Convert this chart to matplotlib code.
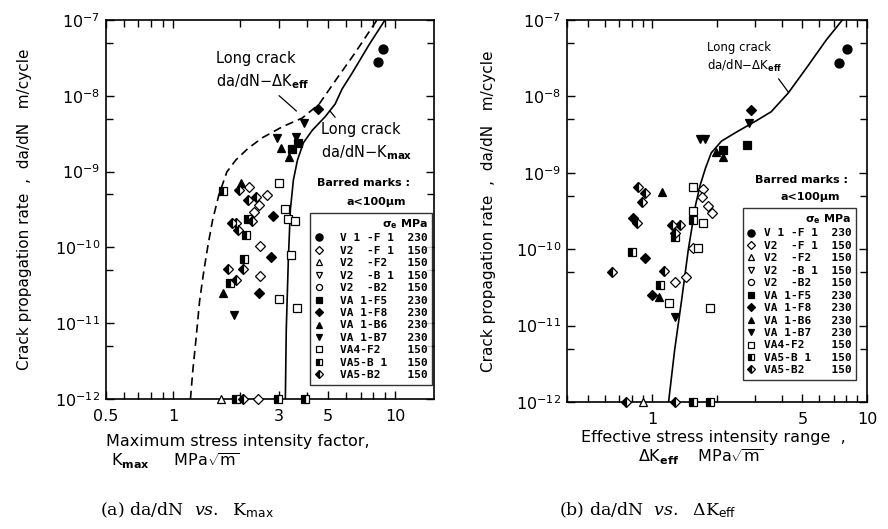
import matplotlib.pyplot as plt
from matplotlib.ticker import LogLocator, FixedLocator, FixedFormatter, NullFormatter

plt.rcParams['font.family'] = 'DejaVu Sans'
plt.rcParams['mathtext.fontset'] = 'custom'
plt.rcParams['mathtext.rm'] = 'DejaVu Sans'
plt.rcParams['mathtext.it'] = 'DejaVu Serif:italic'
plt.rcParams['mathtext.bf'] = 'DejaVu Sans:bold'

# specimens and sigma_e (MPa), written as in the original legend
names = ['V 1 -F 1', 'V2  -F 1', 'V2  -F2 ', 'V2  -B 1', 'V2  -B2 ', 'VA 1-F5 ',
         'VA 1-F8 ', 'VA 1-B6 ', 'VA 1-B7 ', 'VA4-F2  ', 'VA5-B 1 ', 'VA5-B2  ']
stress = [230, 150, 150, 150, 150, 230, 230, 230, 230, 150, 150, 150]

# ---- (a) da/dN vs Kmax   (K in MPa sqrt(m), rate in m/cycle)
a_V1F1_k = [8.4, 8.8]
a_V1F1_r = [2.8e-8, 4.1e-8]
a_V2F1_k = [2.21, 2.64, 2.43, 2.31, 2.48, 2.46, 2.41]
a_V2F1_r = [6.3e-10, 4.9e-10, 3.6e-10, 2.9e-10, 1.04e-10, 4.2e-11, 1e-12]
a_V2F2_k = [1.64]
a_V2F2_r = [1e-12]
a_VA1F5_k = [3.67, 3.45]
a_VA1F5_r = [2.4e-9, 2.0e-9]
a_VA1F8_k = [4.51, 2.81, 2.78, 2.43]
a_VA1F8_r = [6.7e-9, 2.6e-10, 7.5e-11, 2.5e-11]
a_VA1B6_k = [3.08, 3.35, 2.02, 1.68]
a_VA1B6_r = [2.05e-9, 1.56e-9, 7.1e-10, 2.5e-11]
a_VA1B7_k = [3.91, 2.93, 3.60, 1.88]
a_VA1B7_r = [4.4e-9, 2.8e-9, 2.9e-9, 1.28e-11]
a_VA4F2_k = [3.02, 3.21, 3.31, 3.56, 3.42, 2.99, 3.64]
a_VA4F2_r = [7.1e-10, 3.2e-10, 2.4e-10, 2.2e-10, 7.9e-11, 2.1e-11, 1.6e-11]
a_VA5B1_k = [1.68, 2.17, 2.13, 2.10, 1.80, 1.92, 2.96, 3.95]
a_VA5B1_r = [5.6e-10, 2.4e-10, 1.46e-10, 7.0e-11, 3.4e-11, 1e-12, 1e-12, 1e-12]
a_VA5B2_k = [1.98, 2.36, 2.19, 2.28, 1.84, 1.92, 1.96, 1.78, 2.06, 1.92, 2.06]
a_VA5B2_r = [5.7e-10, 4.6e-10, 4.2e-10, 2.2e-10, 2.1e-10, 2.1e-10, 1.7e-10,
             5.2e-11, 5.2e-11, 3.7e-11, 1e-12]

# long crack curves in (a)
a_dkeff_k = [1.20, 1.23, 1.27, 1.32, 1.38, 1.44, 1.51, 1.61, 1.75, 1.92, 2.17,
             2.53, 3.11, 3.83, 4.56, 5.50, 6.62, 8.30]
a_dkeff_r = [1e-12, 2.4e-12, 6.0e-12, 2.0e-11, 5.0e-11, 1.08e-10, 2.3e-10,
             4.9e-10, 9.9e-10, 1.42e-9, 2.0e-9, 2.8e-9, 3.9e-9, 5.1e-9, 7.8e-9,
             1.72e-8, 3.7e-8, 1e-7]
a_kmax_k = [3.21, 3.24, 3.31, 3.38, 3.49, 3.64, 3.87, 4.24, 4.85, 5.38, 5.78,
            6.42, 7.64, 9.02]
a_kmax_r = [1e-12, 8.1e-12, 6.8e-11, 3.1e-10, 7.8e-10, 1.42e-9, 2.4e-9, 3.5e-9,
            5.3e-9, 7.8e-9, 1.23e-8, 2.0e-8, 4.7e-8, 1e-7]

# ---- (b) da/dN vs dKeff
b_V1F1_k = [7.4, 8.1]
b_V1F1_r = [2.7e-8, 4.2e-8]
b_V2F1_k = [1.73, 1.71, 1.82, 1.90, 1.54, 1.43, 1.27]
b_V2F1_r = [6.1e-10, 4.8e-10, 3.7e-10, 3.0e-10, 1.04e-10, 4.3e-11, 3.7e-11]
b_V2F2_k = [0.90]
b_V2F2_r = [1e-12]
b_VA1F5_k = [2.77, 2.14]
b_VA1F5_r = [2.3e-9, 2.0e-9]
b_VA1F8_k = [2.89, 0.81, 0.92, 1.0]
b_VA1F8_r = [6.6e-9, 2.56e-10, 7.7e-11, 2.5e-11]
b_VA1B6_k = [1.97, 2.14, 1.11, 1.07]
b_VA1B6_r = [1.87e-9, 1.61e-9, 5.6e-10, 2.4e-11]
b_VA1B7_k = [2.83, 1.67, 1.75, 1.27]
b_VA1B7_r = [4.5e-9, 2.8e-9, 2.8e-9, 1.3e-11]
b_VA4F2_k = [1.55, 1.54, 1.73, 1.64, 1.19, 1.86]
b_VA4F2_r = [6.5e-10, 3.2e-10, 2.2e-10, 1.04e-10, 2.0e-11, 1.7e-11]
b_VA5B1_k = [1.55, 0.807, 1.28, 1.09, 1.86, 1.54]
b_VA5B1_r = [2.4e-10, 9.2e-11, 1.45e-10, 3.4e-11, 1e-12, 1e-12]
b_VA5B2_k = [0.861, 0.928, 0.898, 0.851, 1.24, 1.35, 1.28, 0.651, 1.13, 0.75, 1.28]
b_VA5B2_r = [6.5e-10, 5.4e-10, 4.15e-10, 2.2e-10, 2.07e-10, 2.07e-10, 1.63e-10,
             5.0e-11, 5.2e-11, 1e-12, 1e-12]

b_dkeff_k = [1.19, 1.27, 1.37, 1.47, 1.59, 1.67, 1.77, 1.88, 2.10, 2.46, 3.05,
             3.58, 4.30, 5.22, 6.47, 7.68]
b_dkeff_r = [1e-12, 4.8e-12, 2.2e-11, 9.8e-11, 3.8e-10, 6.9e-10, 1.16e-9,
             1.82e-9, 2.6e-9, 3.4e-9, 4.8e-9, 6.3e-9, 1.11e-8, 2.35e-8, 5.5e-8, 1e-7]

a_series = [(a_V1F1_k, a_V1F1_r), (a_V2F1_k, a_V2F1_r), (a_V2F2_k, a_V2F2_r),
            ([], []), ([], []), (a_VA1F5_k, a_VA1F5_r), (a_VA1F8_k, a_VA1F8_r),
            (a_VA1B6_k, a_VA1B6_r), (a_VA1B7_k, a_VA1B7_r), (a_VA4F2_k, a_VA4F2_r),
            (a_VA5B1_k, a_VA5B1_r), (a_VA5B2_k, a_VA5B2_r)]
b_series = [(b_V1F1_k, b_V1F1_r), (b_V2F1_k, b_V2F1_r), (b_V2F2_k, b_V2F2_r),
            ([], []), ([], []), (b_VA1F5_k, b_VA1F5_r), (b_VA1F8_k, b_VA1F8_r),
            (b_VA1B6_k, b_VA1B6_r), (b_VA1B7_k, b_VA1B7_r), (b_VA4F2_k, b_VA4F2_r),
            (b_VA5B1_k, b_VA5B1_r), (b_VA5B2_k, b_VA5B2_r)]

# marker, face, fillstyle
styles = [('o', 'black', 'full'), ('D', 'white', 'full'), ('^', 'white', 'full'),
          ('v', 'white', 'full'), ('o', 'white', 'full'), ('s', 'black', 'full'),
          ('D', 'black', 'full'), ('^', 'black', 'full'), ('v', 'black', 'full'),
          ('s', 'white', 'full'), ('s', 'black', 'left'), ('D', 'black', 'left')]
sizes = [6.5, 5, 5.5, 5.5, 5.5, 5.5, 5.5, 6, 6, 5.5, 5.5, 5.5]


def draw_points(ax, series):
    for (xs, ys), (m, fc, fs), ms, nm, st in zip(series, styles, sizes, names, stress):
        ax.plot(xs, ys, ls='none', marker=m, ms=ms, mfc=fc, mfcalt='white',
                fillstyle=fs, mec='black', mew=0.9, clip_on=False, zorder=5,
                label=f'{nm}  {st}')


def style_axes(ax, xlim, xticks):
    ax.set_xscale('log')
    ax.set_yscale('log')
    ax.set_xlim(*xlim)
    ax.set_ylim(1e-12, 1e-7)
    ax.xaxis.set_major_locator(FixedLocator(xticks))
    ax.xaxis.set_major_formatter(FixedFormatter([('%g' % t) for t in xticks]))
    ax.xaxis.set_minor_locator(LogLocator(base=10, subs=range(2, 10), numticks=20))
    ax.xaxis.set_minor_formatter(NullFormatter())
    ax.yaxis.set_major_locator(LogLocator(base=10, numticks=10))
    ax.yaxis.set_minor_locator(LogLocator(base=10, subs=[5], numticks=10))
    ax.yaxis.set_minor_formatter(NullFormatter())
    ax.tick_params(which='both', direction='in', top=True, right=True,
                   width=1, labelsize=11.5)
    ax.tick_params(which='major', length=6, pad=4)
    ax.tick_params(axis='x', which='major', pad=7)
    ax.tick_params(which='minor', length=5)
    for sp in ax.spines.values():
        sp.set_linewidth(1.2)


fig = plt.figure(figsize=(8.88, 5.29), dpi=100)
ax1 = fig.add_axes([0.1194, 0.2457, 0.3694, 0.7165])
ax2 = fig.add_axes([0.6385, 0.2401, 0.3378, 0.7221])

# ---- panel (a)
ax1.plot(a_dkeff_k, a_dkeff_r, color='black', lw=1.2, ls=(0, (5, 3)))
ax1.plot(a_kmax_k, a_kmax_r, color='black', lw=1.2)
draw_points(ax1, a_series)
style_axes(ax1, (0.5, 15), [0.5, 1, 3, 5, 10])

ax1.annotate('Long crack\nda/dN\u2212\u0394K$_{\\bf eff}$', xy=(3.6, 6.3e-9),
             xytext=(0.335, 0.865), textcoords='axes fraction', fontsize=10.5,
             ha='left', va='center', linespacing=1.45,
             arrowprops=dict(arrowstyle='-', lw=0.9, color='black',
                             relpos=(0.62, 0.0), shrinkA=2, shrinkB=0))
ax1.annotate('Long crack\nda/dN\u2212K$_{\\bf max}$', xy=(5.1, 6.3e-9),
             xytext=(0.655, 0.678), textcoords='axes fraction', fontsize=10.5,
             ha='left', va='center', linespacing=1.45,
             arrowprops=dict(arrowstyle='-', lw=0.9, color='black',
                             relpos=(0.2, 1.0), shrinkA=2, shrinkB=0))
ax1.text(0.784, 0.570, 'Barred marks :', transform=ax1.transAxes,
         fontsize=8, fontweight='bold', ha='center', va='center')
ax1.text(0.823, 0.520, 'a<100\u03bcm', transform=ax1.transAxes,
         fontsize=8, fontweight='bold', ha='center', va='center')

ax1.set_ylabel('Crack propagation rate  ,  da/dN   m/cycle', fontsize=11)
ax1.yaxis.set_label_coords(-0.225, 0.5)
ax1.text(0.0, -0.113, 'Maximum stress intensity factor,', transform=ax1.transAxes,
         fontsize=11.5, ha='left', va='center')
ax1.text(0.015, -0.163, 'K$_{\\bf max}$     MPa$\\sqrt{\\rm m}$', transform=ax1.transAxes,
         fontsize=11.5, ha='left', va='center')

# ---- panel (b)
ax2.plot(b_dkeff_k, b_dkeff_r, color='black', lw=1.2)
draw_points(ax2, b_series)
style_axes(ax2, (0.4, 10), [1, 5, 10])

ax2.annotate('Long crack\nda/dN\u2212\u0394K$_{\\bf eff}$', xy=(4.3, 1.14e-8),
             xytext=(0.467, 0.902), textcoords='axes fraction', fontsize=8.5,
             ha='left', va='center', linespacing=1.3,
             arrowprops=dict(arrowstyle='-', lw=0.9, color='black',
                             relpos=(0.9, 0.0), shrinkA=2, shrinkB=0))
ax2.text(0.783, 0.581, 'Barred marks :', transform=ax2.transAxes,
         fontsize=8, fontweight='bold', ha='center', va='center')
ax2.text(0.81, 0.537, 'a<100\u03bcm', transform=ax2.transAxes,
         fontsize=8, fontweight='bold', ha='center', va='center')

ax2.set_ylabel('Crack propagation rate  ,  da/dN   m/cycle', fontsize=11)
ax2.yaxis.set_label_coords(-0.235, 0.5)
ax2.text(0.487, -0.094, 'Effective stress intensity range  ,', transform=ax2.transAxes,
         fontsize=11.5, ha='center', va='center')
ax2.text(0.447, -0.144, '\u0394K$_{\\bf eff}$    MPa$\\sqrt{\\rm m}$', transform=ax2.transAxes,
         fontsize=11.5, ha='center', va='center')

for ax, anchor, tpad in ((ax1, (0.995, 0.038), 1.5), (ax2, (0.963, 0.058), 0.7)):
    leg = ax.legend(loc='lower right', bbox_to_anchor=anchor,
                    title='\u03c3$_{\\bf e}$ MPa', alignment='right',
                    prop={'family': 'DejaVu Sans Mono', 'size': 8.0, 'weight': 'bold'},
                    title_fontproperties={'size': 8, 'weight': 'bold'},
                    frameon=True, fancybox=False, edgecolor='black',
                    borderpad=0.4, labelspacing=0.22, handlelength=0.8,
                    handletextpad=tpad, borderaxespad=0, markerscale=0.8)
    leg.get_frame().set_linewidth(1.0)

fig.text(100 / 888, 1 - 510 / 529, '(a) da/dN  $\\mathit{vs.}$  K$_{\\rm max}$',
         family='DejaVu Serif', fontsize=12.5, ha='left', va='center')
fig.text(559 / 888, 1 - 510 / 529, '(b) da/dN  $\\mathit{vs.}$  \u0394K$_{\\rm eff}$',
         family='DejaVu Serif', fontsize=12.5, ha='left', va='center')

plt.savefig('out.png', dpi=100)
